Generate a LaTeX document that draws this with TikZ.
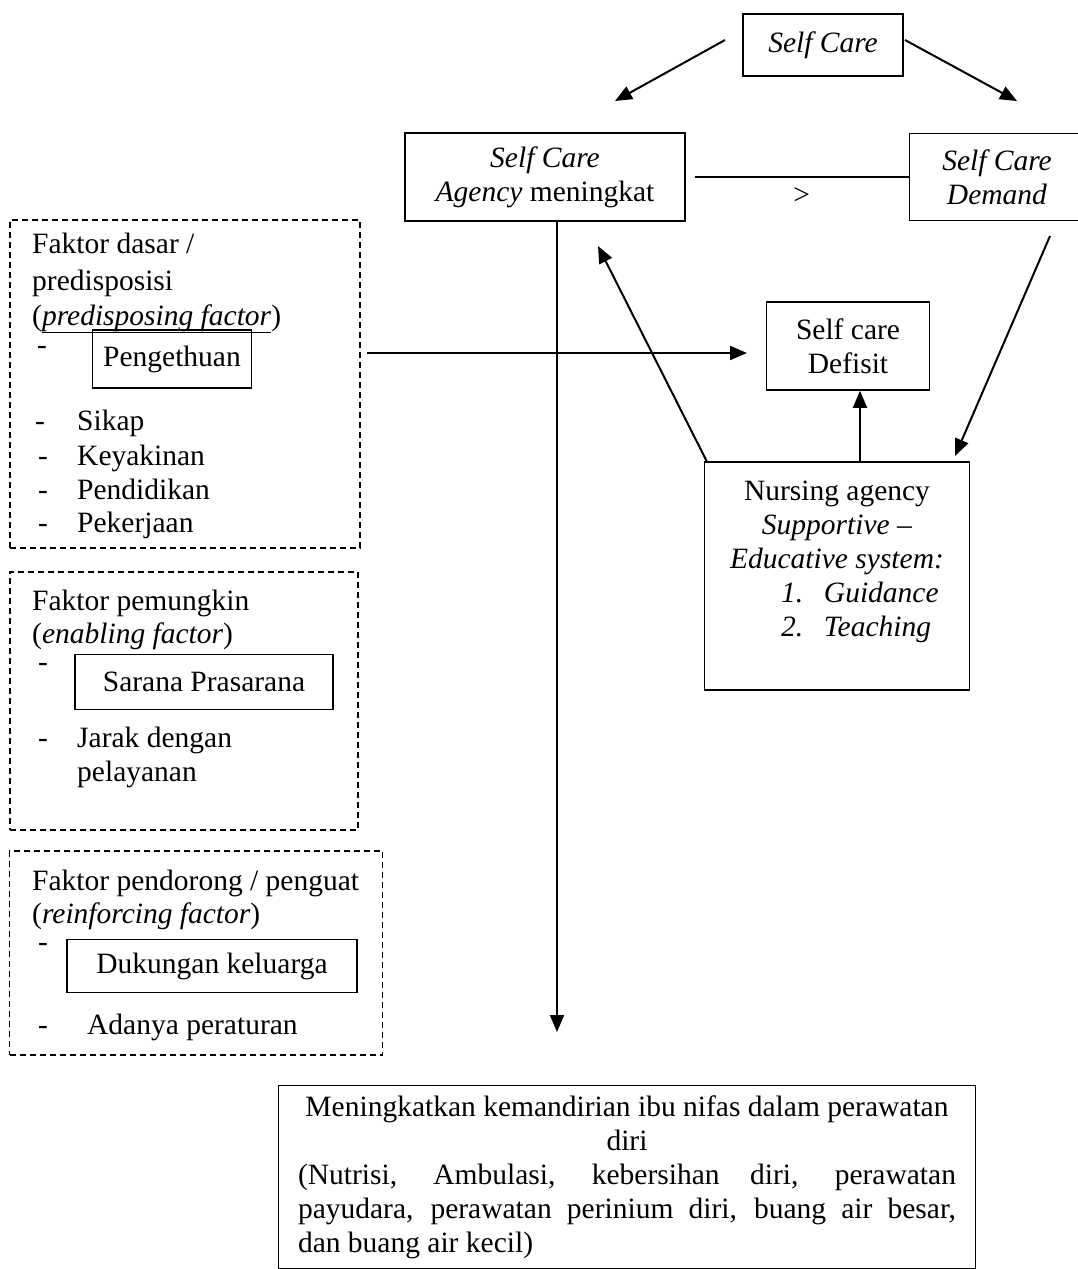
\documentclass[tikz,border=0pt]{standalone}
\usepackage{fontspec}
\setmainfont{Liberation Serif}
\usetikzlibrary{arrows.meta}
\newcommand{\diagfont}{\fontsize{29.5}{34}\selectfont}
\tikzset{
	box/.style={draw, line width=1.6pt, inner sep=0pt, align=center},
	dbox/.style={draw, dash pattern=on 6pt off 4pt, line width=1.6pt, inner sep=0pt},
	txt/.style={anchor=base west, inner sep=0pt},
	arr/.style={line width=2pt, -{Triangle[length=17pt,width=14pt]}},
}
\begin{document}
\begin{tikzpicture}[x=1pt,y=-1pt,font=\diagfont]
			\useasboundingbox (0,0) rectangle (1077,1269);
			
			\node[box, minimum width=160, minimum height=62] (sc) at (823,45) {\textit{Self Care}};
			\node[box, minimum width=280, minimum height=88] (agency) at (545,177) {\textit{Self Care}\\\textit{Agency} meningkat};
			\node[box, minimum width=175, minimum height=87] (demand) at (997,177) {\textit{Self Care}\\\textit{Demand}};
			\node[box, minimum width=163, minimum height=88] (def) at (848,346) {Self care\\Defisit};
			\node[box, minimum width=265, minimum height=228] (nurs) at (837,576) {Nursing agency\\\textit{Supportive –}\\\textit{Educative system:}\\
				\makebox[210pt][l]{\hspace{49pt}\makebox[43pt][l]{\textit{1.}}\textit{Guidance}}\\
				\makebox[210pt][l]{\hspace{49pt}\makebox[43pt][l]{\textit{2.}}\textit{Teaching}}\\ ~};
			\node[box, minimum width=697, minimum height=183, text width=658, align=justify] (goal) at (627,1177)
				{{\centering Meningkatkan kemandirian ibu nifas dalam perawatan\\ diri\par}(Nutrisi, Ambulasi, kebersihan diri, perawatan\linebreak payudara, perawatan perinium diri, buang air besar,\linebreak dan buang air kecil)};
			
			\node[dbox, minimum width=350, minimum height=328] (f1) at (185,384) {};
			\node[txt] at (32,253) {Faktor dasar /};
			\node[txt] at (32,290) {predisposisi};
			\node[txt] at (32,325) {(\underline{\textit{predisposing factor}})};
			\node[txt] at (37,354) {-};
			\node[box, minimum width=159, minimum height=58] (pengetahuan) at (172,359) {Pengethuan};
			\node[txt] at (35,430) {-};
			\node[txt] at (77,430) {Sikap};
			\node[txt] at (38,465) {-};
			\node[txt] at (77,465) {Keyakinan};
			\node[txt] at (38,499) {-};
			\node[txt] at (77,499) {Pendidikan};
			\node[txt] at (38,532) {-};
			\node[txt] at (77,532) {Pekerjaan};
			
			\node[dbox, minimum width=348, minimum height=258] (f2) at (184,701) {};
			\node[txt] at (32,610) {Faktor pemungkin};
			\node[txt] at (32,643) {(\textit{enabling factor})};
			\node[txt] at (38,671) {-};
			\node[box, minimum width=258, minimum height=55] (sarana) at (204,682) {Sarana Prasarana};
			\node[txt] at (38,747) {-};
			\node[txt] at (77,747) {Jarak dengan};
			\node[txt] at (77,781) {pelayanan};
			
			\node[dbox, minimum width=373, minimum height=204] (f3) at (196,953) {};
			\node[txt] at (32,890) {Faktor pendorong / penguat};
			\node[txt] at (32,923) {(\textit{reinforcing factor})};
			\node[txt] at (38,951) {-};
			\node[box, minimum width=290, minimum height=53] (dukungan) at (212,966) {Dukungan keluarga};
			\node[txt] at (38,1034) {-};
			\node[txt] at (87,1034) {Adanya peraturan};
			
			\coordinate (scl) at (725,40);
			\coordinate (scla) at (615,101);
			\coordinate (scr) at (905,40);
			\coordinate (scra) at (1017,101);
			\coordinate (down) at (557,1032);
			\coordinate (back) at (598,246);
			\coordinate (dem) at (1050,236);
			\coordinate (dema) at (955,456);
			\coordinate (defa) at (747,353);
			
			\draw[arr] (scl) -- (scla);
			\draw[arr] (scr) -- (scra);
			\draw[line width=1.6pt] ([xshift=9pt]agency.east |- demand.west) -- (demand.west) node[midway, below=6pt] {>};
			\draw[arr] (agency.south -| down) -- (down);
			\draw[arr] ([xshift=3pt]nurs.north west) -- (back);
			\draw[arr] (dem) -- (dema);
			\draw[arr] ([xshift=12pt]def.south |- nurs.north) -- ([xshift=12pt]def.south);
			\draw[arr] ([xshift=6pt]f1.east |- defa) -- (defa);

	\end{tikzpicture}
\end{document}
